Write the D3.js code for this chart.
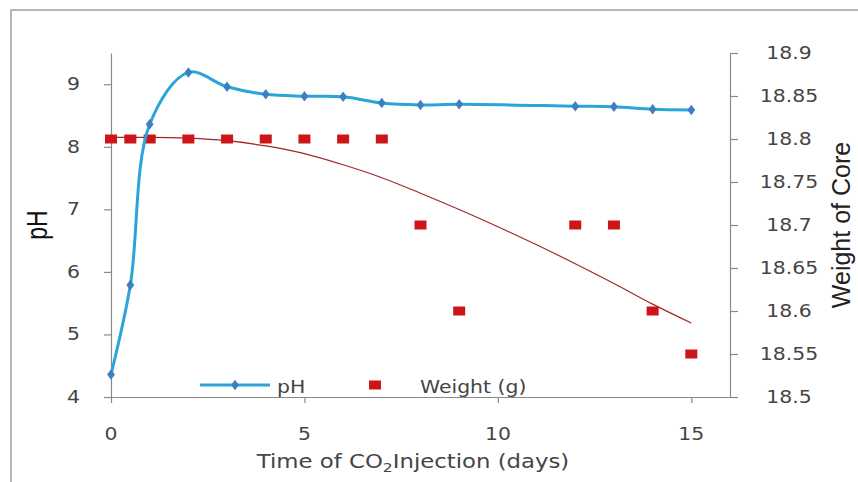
<!DOCTYPE html>
<html>
<head>
<meta charset="utf-8">
<script src="https://cdn.jsdelivr.net/npm/d3@7"></script>
<style>
  html, body { margin: 0; padding: 0; background: #fff; }
  svg { display: block; }
</style>
</head>
<body>
<div id="chart"></div>
<script>
const width = 858;
const height = 482;

// values
const days = [0, 0.5, 1, 2, 3, 4, 5, 6, 7, 8, 9, 12, 13, 14, 15];
const phValues = [4.36, 5.79, 8.36, 9.19, 8.96, 8.84, 8.81, 8.80, 8.70, 8.67, 8.68, 8.65, 8.64, 8.60, 8.59];
const weightValues = [18.8, 18.8, 18.8, 18.8, 18.8, 18.8, 18.8, 18.8, 18.8, 18.7, 18.6, 18.7, 18.7, 18.6, 18.55];

// trend line of the weight, read at whole days
const trendDays = [0, 1, 2, 3, 4, 5, 6, 7, 8, 9, 10, 11, 12, 13, 14, 15];
const trendWeight = [18.802, 18.802, 18.801, 18.798, 18.792, 18.783, 18.770, 18.755, 18.737, 18.718, 18.698, 18.677, 18.655, 18.632, 18.608, 18.586];

const xTicks = [0, 5, 10, 15];
const phTicks = [4, 5, 6, 7, 8, 9];
const weightTicks = [18.5, 18.55, 18.6, 18.65, 18.7, 18.75, 18.8, 18.85, 18.9];

const plot = { left: 111, right: 730, top: 53, bottom: 397 };

const svg = d3.select('#chart')
  .append('svg')
  .attr('width', width)
  .attr('height', height);

// outer frame (runs off the right and bottom edges)
svg.append('rect')
  .attr('x', 11)
  .attr('y', 10)
  .attr('width', 900)
  .attr('height', 500)
  .attr('fill', 'none')
  .attr('stroke', '#a0a0a0')
  .attr('stroke-width', 1.5);

const xScale = d3.scaleLinear().domain([0, 16]).range([plot.left, plot.right]);
const phScale = d3.scaleLinear().domain([4, 9.5]).range([plot.bottom, plot.top]);
const wScale = d3.scaleLinear().domain([18.5, 18.9]).range([plot.bottom, plot.top]);

const axisColor = '#8a8a8a';
const labelColor = '#454545';

function styleAxis(g) {
  g.selectAll('path, line').attr('stroke', axisColor).attr('stroke-width', 1.2);
}

svg.append('g')
  .attr('transform', `translate(0, ${plot.bottom})`)
  .call(d3.axisBottom(xScale).tickValues(xTicks).tickSize(6).tickSizeOuter(0).tickFormat(''))
  .call(styleAxis);

svg.append('g')
  .attr('transform', `translate(${plot.left}, 0)`)
  .call(d3.axisLeft(phScale).tickValues(phTicks).tickSize(7).tickSizeOuter(0).tickFormat(''))
  .call(styleAxis);

svg.append('g')
  .attr('transform', `translate(${plot.right}, 0)`)
  .call(d3.axisRight(wScale).tickValues(weightTicks).tickSize(8).tickSizeOuter(0).tickFormat(''))
  .call(styleAxis);

// text is a bit wide in the reference, so stretch it horizontally
function addLabel(x, y, text, opts) {
  const g = svg.append('g')
    .attr('transform', `translate(${x}, ${y}) scale(${opts.sx || 1}, 1)${opts.rotate ? ' rotate(-90)' : ''}`);
  return g.append('text')
    .attr('font-family', opts.family || 'DejaVu Sans')
    .attr('font-size', opts.size)
    .attr('fill', opts.color || labelColor)
    .attr('text-anchor', opts.anchor || 'middle')
    .attr('dominant-baseline', opts.baseline || 'auto')
    .text(text);
}

phTicks.forEach((t) => {
  addLabel(80, phScale(t), d3.format('d')(t), { size: 17, sx: 1.2, anchor: 'end', baseline: 'central' });
});

weightTicks.forEach((t) => {
  addLabel(789, wScale(t), String(t), { size: 17, sx: 1.2, baseline: 'central' });
});

xTicks.forEach((t) => {
  addLabel(xScale(t), 434, String(t), { size: 17, sx: 1.2, baseline: 'central' });
});

// axis titles
const xTitle = addLabel(413, 468, 'Time of CO', { size: 19, sx: 1.2 });
xTitle.append('tspan').attr('font-size', 13).attr('dy', 4).text('2');
xTitle.append('tspan').attr('dy', -4).text('Injection (days)');

addLabel(47, 225, 'pH', { size: 23, sx: 1.3, rotate: true, family: 'Liberation Sans', color: '#111' });
addLabel(850, 225, 'Weight of Core', { size: 25, rotate: true, family: 'Liberation Sans', color: '#222' });

// weight trend line
const trendData = trendDays.map((d, i) => ({ x: d, y: trendWeight[i] }));
svg.append('path')
  .datum(trendData)
  .attr('fill', 'none')
  .attr('stroke', '#a3262a')
  .attr('stroke-width', 1.2)
  .attr('d', d3.line().x((d) => xScale(d.x)).y((d) => wScale(d.y)).curve(d3.curveMonotoneX));

// weight squares
const weightData = days.map((d, i) => ({ x: d, y: weightValues[i] }));
const sqW = 12;
const sqH = 9;
svg.append('g')
  .selectAll('rect')
  .data(weightData)
  .enter()
  .append('rect')
  .attr('x', (d) => xScale(d.x) - sqW / 2)
  .attr('y', (d) => wScale(d.y) - sqH / 2)
  .attr('width', sqW)
  .attr('height', sqH)
  .attr('fill', '#cc1419');

// pH line
const phData = days.map((d, i) => ({ x: d, y: phValues[i] }));
svg.append('path')
  .datum(phData)
  .attr('fill', 'none')
  .attr('stroke', '#2aa4d9')
  .attr('stroke-width', 3)
  .attr('d', d3.line().x((d) => xScale(d.x)).y((d) => phScale(d.y)).curve(d3.curveCatmullRom.alpha(0.5)));

const diamond = d3.symbol().type(d3.symbolDiamond).size(32);
svg.append('g')
  .selectAll('path')
  .data(phData)
  .enter()
  .append('path')
  .attr('transform', (d) => `translate(${xScale(d.x)}, ${phScale(d.y)}) scale(1.3, 1)`)
  .attr('d', diamond)
  .attr('fill', '#3f7fc0');

// legend
const legendY = 385;
svg.append('line')
  .attr('x1', 200).attr('x2', 270)
  .attr('y1', legendY).attr('y2', legendY)
  .attr('stroke', '#2aa4d9')
  .attr('stroke-width', 3);
svg.append('path')
  .attr('transform', `translate(235, ${legendY}) scale(1.3, 1)`)
  .attr('d', diamond)
  .attr('fill', '#3f7fc0');
addLabel(277, 393, 'pH', { size: 17, sx: 1.2, anchor: 'start' });

svg.append('rect')
  .attr('x', 375 - sqW / 2)
  .attr('y', legendY - sqH / 2)
  .attr('width', sqW)
  .attr('height', sqH)
  .attr('fill', '#cc1419');
addLabel(420, 393, 'Weight (g)', { size: 17, sx: 1.2, anchor: 'start' });
</script>
</body>
</html>
